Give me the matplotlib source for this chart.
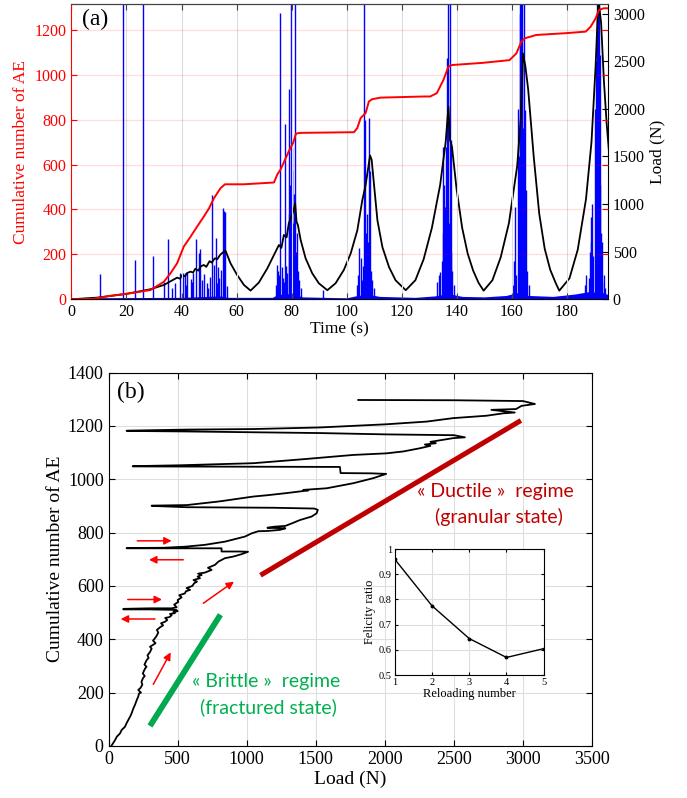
import numpy as np
import matplotlib
matplotlib.use('Agg')
import matplotlib.pyplot as plt

plt.rcParams['font.family'] = ['Liberation Serif', 'DejaVu Serif']

# ---------------- panel (a) data ----------------
# cumulative number of AE (left axis)
cum_t = [0, 8, 14, 21.5, 28.7, 33.6, 36, 38.4, 39.6, 40.8, 43.3, 45.7, 48.1, 50, 51.8, 54.2, 55.8,
         62.7, 73.6, 74.8, 76, 77.2, 79, 80.6, 81.6, 83.3, 102.7, 103.9, 105.1, 106.9, 108.1, 109.3,
         112.4, 128.1, 130.4, 132.8, 135.2, 137, 138.2, 149.6, 159.2, 161.7, 163.5, 164.7, 168.9,
         179.7, 186.9, 188.7, 190.5, 191.7, 193.5, 196]
cum_ae = [0, 2, 15, 27, 41, 78, 116, 160, 197, 234, 279, 324, 368, 405, 450, 495, 512,
          512, 520, 555, 578, 610, 659, 697, 738, 741, 744, 763, 807, 829, 881, 891,
          898, 903, 903, 918, 977, 1036, 1043, 1053, 1065, 1095, 1147, 1162, 1177,
          1185, 1192, 1214, 1251, 1288, 1296, 1296]

# load (right axis)
load_t = [0, 9.3, 20, 28.7, 33.6, 38.4, 39.5, 40.2, 41.3, 42, 43.3, 44.2, 45, 46.1, 47, 48.1, 49,
          50.2, 51, 52.1, 53, 54, 55.4, 56, 57.8, 60.2, 62.7, 65.1, 68.1, 71.2, 73.6, 75.4,
          76.3, 77.2, 78.2, 79, 80.6, 81.3, 81.8, 82.3, 83.3, 85.1, 87.5, 89.9, 93, 96, 99,
          101.5, 103.9, 105.7, 106.9, 107.9, 108.5, 109.1, 109.7, 111.2, 113, 115.4, 117.8,
          121.5, 125, 128, 131, 134, 136, 137, 137.6, 138.3, 140, 142, 144, 146, 148, 149.8,
          153, 156, 159, 162, 163.3, 164.1, 165, 166, 168, 170, 172, 174, 176, 177.3,
          181, 184, 187, 189, 190.5, 191.5, 192.5, 193.5, 194.5, 195.5]
load_n = [0, 17, 56, 105, 150, 227, 215, 255, 240, 275, 290, 280, 320, 300, 345, 360, 340,
          400, 385, 430, 420, 465, 500, 510, 378, 255, 150, 91, 175, 325, 465, 570,
          540, 675, 650, 797, 920, 1007, 814, 779, 622, 430, 273, 168, 95, 168, 308,
          482, 724, 1039, 1196, 1388, 1510, 1465, 1283, 829, 549, 339, 199,
          95, 200, 420, 750, 1200, 1650, 2021, 1670, 1600, 1150, 750, 480, 300, 170, 90,
          200, 440, 800, 1400, 1900, 2581, 2441, 2200, 1500, 900, 530, 310, 170, 90,
          220, 520, 1050, 1650, 2450, 3150, 2900, 2300, 1850, 1500]

# AE activity: individual bursts (time, amplitude on load scale)
spike_t = [10.3, 18.7, 23.0, 25.9, 29.5, 33.6, 35.2, 36.4, 37.8, 39.3, 40.6, 41.2, 42.1, 43.3,
           44.2, 45.1, 46.3, 46.9, 48.1, 49.3, 50.9, 51.8, 52.4, 53.3, 54.2, 54.9, 55.4, 55.9,
           56.4, 41.8, 43.8, 47.5, 49.8, 50.4, 52.8, 53.8,
           74.5, 74.8, 75.2, 75.6, 75.9, 76.4, 76.8, 77.2, 77.5, 78.0, 78.5, 79.0, 79.2, 79.5,
           79.8, 80.0, 80.2, 80.6, 81.0, 81.3, 81.6, 81.8, 82.2, 82.8, 83.3, 91.3,
           103.8, 104.2, 104.5, 105.2, 105.6, 106.0, 106.4, 106.7, 107.2, 107.5, 107.8, 108.0,
           108.2, 108.4, 108.8, 109.2, 109.8,
           132.8, 133.5, 134.0, 134.5, 135.0, 135.2, 135.5, 135.7, 136.0, 136.4, 136.6, 137.0,
           137.2, 137.4, 137.7, 137.8, 138.1, 138.3, 139.0,
           160.5, 161.0, 161.2, 161.7, 162.2, 162.6, 162.9, 163.0, 163.5, 163.6, 163.8, 164.0,
           164.3, 164.5, 164.8, 165.0, 165.3, 165.6, 166.2,
           186.5, 187.0, 188.1, 188.3, 188.7, 189.0, 189.3, 189.6, 190.2, 190.5, 190.8, 190.9,
           191.3, 191.5, 191.6, 192.0, 192.2, 192.5, 192.7, 193.0, 193.5, 194.0]
spike_n = [262, 4000, 412, 4000, 458, 185, 633, 120, 168, 279, 272, 272, 279, 210,
           272, 636, 482, 531, 262, 168, 1094, 360, 647, 343, 308, 955, 930, 920,
           140, 150, 180, 200, 120, 230, 170, 220,
           150, 360, 300, 250, 3008, 343, 220, 180, 1840, 350, 280, 900, 2203, 1200,
           4000, 1600, 1357, 800, 1100, 4000, 500, 692, 300, 200, 120, 98,
           150, 250, 535, 430, 200, 350, 4000, 1881, 700, 900, 604, 1899,
           500, 1350, 300, 200, 120,
           185, 250, 290, 400, 1601, 700, 1200, 972, 1600, 2528, 1100, 4000,
           800, 4000, 972, 500, 1670, 300, 150,
           150, 400, 972, 250, 2000, 1500, 4000, 3000, 4000, 2500, 4000, 1800,
           4000, 900, 1986, 600, 1150, 300, 150,
           150, 250, 220, 500, 867, 600, 1000, 450, 2000, 1462, 2500, 4000,
           4000, 1800, 4000, 2560, 1200, 700, 600, 180, 250, 120]

# AE background level
bg_t = [0, 40, 54, 57, 73, 75, 80, 84, 100, 104, 108, 112, 125, 132, 137, 142, 150, 158, 162,
        166, 175, 183, 188, 193, 196]
bg_n = [15, 20, 35, 20, 20, 50, 60, 25, 15, 40, 50, 30, 20, 35, 60, 30, 25, 40, 70,
        40, 30, 55, 80, 70, 40]

# ---------------- panel (b) data ----------------
load_b = [20, 35, 47, 60, 83, 95, 119, 130, 156, 165, 180, 192, 204, 215, 221, 235, 215, 232,
          245, 238, 250, 262, 248, 264, 275, 260, 276, 290, 282, 300, 312, 300, 325, 340, 322,
          345, 360, 350, 373, 395, 380, 410, 425, 410, 440, 457, 445, 480, 470, 500, 490,
          300, 107,
          107, 300, 457, 493, 475, 505, 500, 529, 512, 553, 560, 590, 565, 607, 620, 640, 615,
          662, 645, 674, 648, 698, 746, 720, 771, 795, 843, 903, 963, 1010,
          950, 818, 818, 131,
          131, 400, 553, 698, 843, 988, 1036, 1084, 1150, 1240, 1280, 1150, 1200, 1280, 1330,
          1386, 1470, 1506, 1515,
          1490, 1193, 566, 312,
          312, 566, 806, 1048, 1150, 1289, 1400, 1446, 1410, 1579, 1772, 1917, 2010,
          1900, 1680, 1675, 175,
          175, 500, 1048, 1410, 1772, 2013, 2133, 2254, 2330, 2290, 2370, 2330, 2495, 2580,
          2500, 2013, 1530, 566, 131,
          131, 566, 1048, 1530, 2013, 2303, 2495, 2737, 2857, 2941, 2772, 2950, 2990, 3087,
          3000, 2500, 1808]
ae_b = [0, 12, 22, 35, 47, 60, 72, 85, 110, 120, 141, 155, 172, 185, 197, 200, 210, 218,
        230, 240, 255, 262, 272, 290, 297, 305, 322, 330, 340, 352, 365, 372, 380, 385, 395,
        410, 425, 435, 445, 452, 460, 466, 472, 480, 483, 490, 495, 498, 503, 505, 510,
        512, 512,
        514, 516, 516, 520, 530, 540, 547, 557, 565, 572, 580, 585, 592, 600, 610, 616, 622,
        629, 635, 641, 646, 650, 660, 668, 679, 691, 704, 710, 719, 728,
        729, 729, 741, 741,
        742, 743, 747, 754, 766, 785, 797, 805, 806, 810, 816, 818, 822, 825, 835,
        847, 860, 872, 885,
        890, 893, 895, 900,
        901, 903, 917, 935, 940, 948, 955, 958, 960, 966, 985, 1004, 1020,
        1022, 1023, 1046, 1048,
        1049, 1052, 1060, 1075, 1091, 1097, 1104, 1116, 1125, 1130, 1135, 1140, 1154, 1157,
        1165, 1168, 1173, 1179, 1181,
        1182, 1186, 1188, 1194, 1206, 1216, 1229, 1238, 1247, 1250, 1260, 1263, 1275, 1282,
        1293, 1296, 1297]

brittle_x = [300, 810]
brittle_y = [75, 492]
ductile_x = [1100, 2985]
ductile_y = [640, 1220]

# red arrows: (x0, y0, x1, y1)
arrows = [(208, 769, 457, 769), (541, 698, 293, 698), (139, 549, 387, 549),
          (336, 476, 88, 476), (324, 231, 450, 351), (686, 535, 908, 616)]

# inset
reload_no = [1, 2, 3, 4, 5]
felicity = [0.96, 0.775, 0.645, 0.57, 0.605]

# ---------------- figure ----------------
fig = plt.figure(figsize=(6.87, 7.98), dpi=100)

ax1 = fig.add_axes([0.104, 0.625, 0.781, 0.370])
ax2 = ax1.twinx()
ax1.set_zorder(ax2.get_zorder() + 1)
ax1.patch.set_visible(False)

ax2.fill_between(bg_t, 0, bg_n, color='#0000ff', lw=0)
ax2.vlines(spike_t, 0, spike_n, color='#0000ff', lw=1.0)
ax2.plot(load_t, load_n, color='black', lw=1.3)
ax2.set_ylim(0, 3100)
ax2.set_yticks(np.arange(0, 3001, 500))
ax2.tick_params(axis='y', direction='in', labelsize=11.5, length=4)
ax2.set_ylabel('Load (N)', fontsize=12.5, labelpad=3)
ax2.spines['left'].set_visible(False)

ax1.plot(cum_t, cum_ae, color='#ff0000', lw=1.4)
ax1.set_xlim(0, 195)
ax1.set_ylim(0, 1315)
ax1.set_xticks(np.arange(0, 181, 20))
ax1.set_yticks(np.arange(0, 1201, 200))
ax1.grid(axis='x', color='#dcdcdc', lw=0.8)
ax1.grid(axis='y', color='#ff0000', alpha=0.13, lw=1.0)
ax1.tick_params(axis='x', direction='in', top=True, labelsize=11.5, length=4, color='#444444')
ax1.tick_params(axis='y', direction='in', right=True, labelsize=11.5, length=4,
                colors='#ff0000')
ax1.spines['left'].set_color('#ff0000')
ax1.spines['right'].set_visible(False)
ax1.spines['top'].set_color('#444444')
ax1.set_xlabel('Time (s)', fontsize=12.5, labelpad=1)
ax1.set_ylabel('Cumulative number of AE', fontsize=12.5, color='#ff0000', labelpad=4)
ax1.text(0.02, 0.985, '(a)', transform=ax1.transAxes, fontsize=17, va='top', ha='left')

# panel (b)
ax3 = fig.add_axes([0.158, 0.0652, 0.7037, 0.468])
ax3.plot(load_b, ae_b, color='black', lw=1.3)
ax3.plot(brittle_x, brittle_y, color='#00a84f', lw=4.2, solid_capstyle='butt')
ax3.plot(ductile_x, ductile_y, color='#c00000', lw=3.6, solid_capstyle='butt')
for x0, y0, x1, y1 in arrows:
    ax3.annotate('', xy=(x1, y1), xytext=(x0, y0),
                 arrowprops=dict(arrowstyle='-|>', color='#ff0000', lw=1.1,
                                 mutation_scale=11, shrinkA=0, shrinkB=0))
ax3.set_xlim(0, 3500)
ax3.set_ylim(0, 1400)
ax3.set_xticks(np.arange(0, 3501, 500))
ax3.set_yticks(np.arange(0, 1401, 200))
ax3.grid(color='#dedede', lw=0.8)
ax3.set_axisbelow(True)
ax3.tick_params(direction='in', top=True, right=True, labelsize=13, length=4)
ax3.set_xlabel('Load (N)', fontsize=14, labelpad=2)
ax3.set_ylabel('Cumulative number of AE', fontsize=14, labelpad=3)
ax3.text(0.017, 0.975, '(b)', transform=ax3.transAxes, fontsize=17, va='top', ha='left')

sans = ['Lato', 'DejaVu Sans']
ax3.text(2804, 954, '\u00ab Ductile \u00bb  regime', color='#c00000', fontsize=14,
         family=sans, ha='center', va='center')
ax3.text(2823, 860, '(granular state)', color='#c00000', fontsize=14,
         family=sans, ha='center', va='center')
ax3.text(1140, 241, '\u00ab Brittle \u00bb  regime', color='#00b050', fontsize=14,
         family=sans, ha='center', va='center')
ax3.text(1154, 147, '(fractured state)', color='#00b050', fontsize=14,
         family=sans, ha='center', va='center')

# inset
ax4 = fig.add_axes([0.5745, 0.154, 0.217, 0.158])
ax4.plot(reload_no, felicity, color='black', lw=1.0, marker='o', ms=1.8)
ax4.set_xlim(1, 5)
ax4.set_ylim(0.5, 1)
ax4.set_xticks(reload_no)
ax4.set_yticks([0.5, 0.6, 0.7, 0.8, 0.9, 1])
ax4.set_yticklabels(['0.5', '0.6', '0.7', '0.8', '0.9', '1'])
ax4.grid(color='#dedede', lw=0.8)
ax4.set_axisbelow(True)
ax4.tick_params(direction='in', top=True, right=True, labelsize=7.5, length=2.5, pad=2)
ax4.set_xlabel('Reloading number', fontsize=9, labelpad=1)
ax4.set_ylabel('Felicity ratio', fontsize=9, labelpad=2)

fig.savefig('out.png', dpi=100)
